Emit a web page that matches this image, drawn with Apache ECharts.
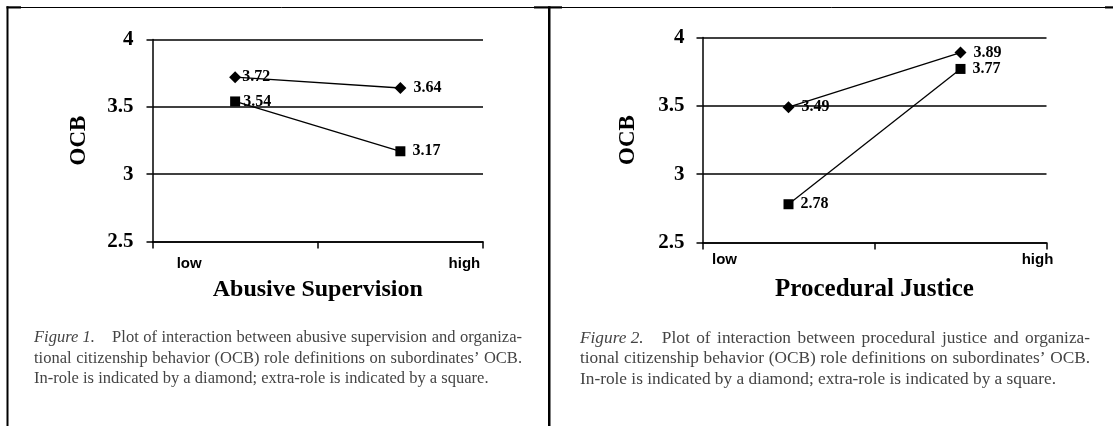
<!DOCTYPE html>
<html>
<head>
<meta charset="utf-8">
<title>OCB interaction plots</title>
<script src="https://cdn.jsdelivr.net/npm/echarts@6/dist/echarts.min.js"></script>
<style>
  html, body { margin: 0; padding: 0; background: #fff; }
  #chart { width: 1113px; height: 426px; }
</style>
</head>
<body>
<div id="chart"></div>
<script>
// Categories on the horizontal axes
const levels = ['low', 'high'];

// Vertical scale (OCB)
const yMin = 2.5;
const yMax = 4;
const yStep = 0.5;

// Figure 1: abusive supervision
const abusiveInRole = [3.72, 3.64];     // diamond
const abusiveExtraRole = [3.54, 3.17];  // square

// Figure 2: procedural justice
const justiceInRole = [3.49, 3.89];     // diamond
const justiceExtraRole = [2.78, 3.77];  // square

// Axis titles
const xTitles = ['Abusive Supervision', 'Procedural Justice'];
const yTitle = 'OCB';

// Figure captions
const captionLabels = ['Figure 1.', 'Figure 2.'];
const captionLines = [
  [
    'Plot of interaction between abusive supervision and organiza-',
    'tional citizenship behavior (OCB) role definitions on subordinates\u2019 OCB.',
    'In-role is indicated by a diamond; extra-role is indicated by a square.'
  ],
  [
    'Plot of interaction between procedural justice and organiza-',
    'tional citizenship behavior (OCB) role definitions on subordinates\u2019 OCB.',
    'In-role is indicated by a diamond; extra-role is indicated by a square.'
  ]
];

const SERIF = '"Liberation Serif", "Times New Roman", serif';
const SANS = '"Liberation Sans", Arial, sans-serif';
const INK = '#000';

const chart = echarts.init(document.getElementById('chart'), null, { renderer: 'canvas' });

// panel-specific layout
const panels = [
  { grid: { left: 152.5, top: 39.5, width: 330.5, height: 202 },
    lowPad: 92, highPad: 128, labelMargin: 15, yLabelMargin: 19, nameGapY: 62, nameGapX: 36,
    titleSize: 24, captionX: 34, captionW: 488, captionSize: 16.5 },
  { grid: { left: 702.5, top: 37.5, width: 344, height: 205 },
    lowPad: 128, highPad: 154, labelMargin: 10, yLabelMargin: 18, nameGapY: 63, nameGapX: 35,
    titleSize: 25, captionX: 580, captionW: 510, captionSize: 17.3 }
];

function xAxisFor(i) {
  const p = panels[i];
  return {
    type: 'category',
    gridIndex: i,
    data: levels,
    boundaryGap: true,
    axisLine: { show: true, lineStyle: { color: INK, width: 1.5 } },
    axisTick: { show: true, length: 7, lineStyle: { color: INK, width: 1.5 } },
    axisLabel: {
      interval: 0,
      margin: p.labelMargin,
      formatter: v => (v === levels[0] ? '{lo|' + v + '}' : '{hi|' + v + '}'),
      rich: {
        lo: { padding: [0, p.lowPad, 0, 0], fontFamily: SANS, fontWeight: 'bold', fontSize: 15, color: INK },
        hi: { padding: [0, 0, 0, p.highPad], fontFamily: SANS, fontWeight: 'bold', fontSize: 15, color: INK }
      }
    },
    name: xTitles[i],
    nameLocation: 'middle',
    nameGap: p.nameGapX,
    nameTextStyle: { fontFamily: SERIF, fontWeight: 'bold', fontSize: p.titleSize, color: INK }
  };
}

function yAxisFor(i) {
  const p = panels[i];
  return {
    type: 'value',
    gridIndex: i,
    min: yMin,
    max: yMax,
    interval: yStep,
    axisLine: { show: true, lineStyle: { color: INK, width: 1.5 } },
    axisTick: { show: true, length: 6, lineStyle: { color: INK, width: 1.5 } },
    splitLine: { show: true, lineStyle: { color: INK, width: 1.5 } },
    axisLabel: {
      margin: p.yLabelMargin,
      formatter: v => String(v),
      fontFamily: SERIF, fontWeight: 'bold', fontSize: 21, color: INK
    },
    name: yTitle,
    nameLocation: 'middle',
    nameRotate: 90,
    nameGap: p.nameGapY,
    nameTextStyle: { fontFamily: SERIF, fontWeight: 'bold', fontSize: 23, color: INK }
  };
}

function lineSeries(i, values, symbol, size, gaps) {
  return {
    type: 'line',
    xAxisIndex: i,
    yAxisIndex: i,
    symbol: symbol,
    symbolSize: size,
    lineStyle: { color: INK, width: 1.3 },
    itemStyle: { color: INK },
    emphasis: { disabled: true },
    data: values.map((v, k) => ({ value: v, label: { distance: gaps[k] } })),
    label: {
      show: true,
      position: 'right',
      formatter: p => p.value.toFixed(2),
      fontFamily: SERIF, fontWeight: 'bold', fontSize: 16, color: INK
    },
    z: 5
  };
}

// Justified caption: every line except the last is spread over the column width.
const measure = document.createElement('canvas').getContext('2d');
function captionGraphics(i) {
  const p = panels[i];
  const size = p.captionSize;
  const plain = size + 'px ' + SERIF;
  const italic = 'italic ' + size + 'px ' + SERIF;
  const lineY = [338, 358.5, 379];
  const items = [];
  captionLines[i].forEach((line, li) => {
    const words = line.split(' ').map(w => ({ text: w, font: plain }));
    let lead = 0;
    if (li === 0) {
      measure.font = italic;
      items.push({ type: 'text', x: p.captionX, y: lineY[li], silent: true,
        style: { text: captionLabels[i], font: italic, fill: '#444', textVerticalAlign: 'middle', verticalAlign: 'middle' } });
      lead = measure.measureText(captionLabels[i]).width + size * 1.05;
    }
    measure.font = plain;
    const widths = words.map(w => measure.measureText(w.text).width);
    const total = widths.reduce((a, b) => a + b, 0);
    const isLast = li === captionLines[i].length - 1;
    const gap = isLast ? measure.measureText(' ').width : (p.captionW - lead - total) / (words.length - 1);
    let x = p.captionX + lead;
    words.forEach((w, k) => {
      items.push({ type: 'text', x: x, y: lineY[li], silent: true,
        style: { text: w.text, font: w.font, fill: '#444', textVerticalAlign: 'middle', verticalAlign: 'middle' } });
      x += widths[k] + gap;
    });
  });
  return items;
}

// Page frame rules
const frame = [
  { type: 'line', shape: { x1: 7, y1: 7.5, x2: 1106, y2: 7.5 }, style: { stroke: INK, lineWidth: 1 }, silent: true },
  { type: 'rect', shape: { x: 6.5, y: 6.3, width: 14.5, height: 2.2 }, style: { fill: INK }, silent: true },
  { type: 'rect', shape: { x: 534, y: 6.3, width: 28, height: 2.2 }, style: { fill: INK }, silent: true },
  { type: 'rect', shape: { x: 1105, y: 6.3, width: 8, height: 2.2 }, style: { fill: INK }, silent: true },
  { type: 'rect', shape: { x: 6.5, y: 6.3, width: 2, height: 420 }, style: { fill: INK }, silent: true },
  { type: 'rect', shape: { x: 548, y: 6.3, width: 2.5, height: 420 }, style: { fill: INK }, silent: true }
];

chart.setOption({
  animation: false,
  backgroundColor: '#fff',
  grid: panels.map(p => Object.assign({ containLabel: false }, p.grid)),
  xAxis: [xAxisFor(0), xAxisFor(1)],
  yAxis: [yAxisFor(0), yAxisFor(1)],
  series: [
    lineSeries(0, abusiveInRole, 'diamond', 12, [1, 7]),
    lineSeries(0, abusiveExtraRole, 'rect', 10, [3, 7]),
    lineSeries(1, justiceInRole, 'diamond', 12, [7, 7]),
    lineSeries(1, justiceExtraRole, 'rect', 10, [7, 7])
  ],
  graphic: frame.concat(captionGraphics(0), captionGraphics(1))
});
</script>
</body>
</html>
